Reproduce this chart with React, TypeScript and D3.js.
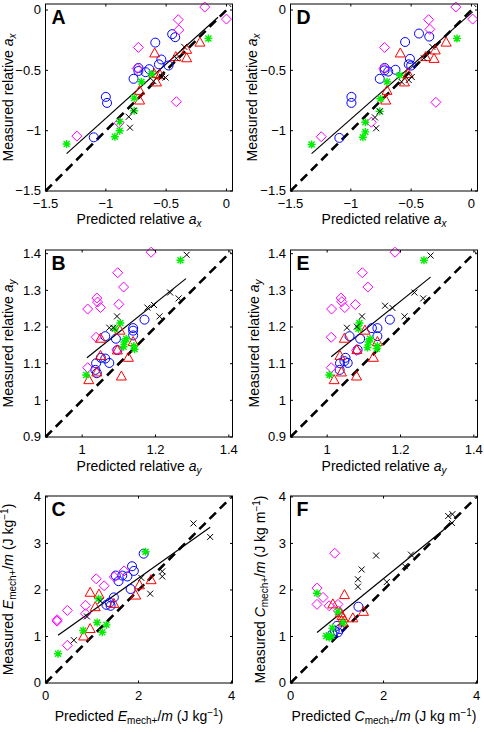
import React from 'react';
import * as d3 from 'd3';

type Pt = [number, number];

// ---- panel A : relative a_x (model 1)
const aBlue: Pt[] = [[-0.59, -0.27], [-0.45, -0.2], [-0.425, -0.225], [-0.54, -0.41], [-0.56, -0.45], [-0.48, -0.46], [-0.64, -0.49], [-0.73, -0.48], [-0.73, -0.505], [-0.67, -0.515], [-0.77, -0.57], [-1.0, -0.72], [-0.99, -0.77], [-1.1, -1.055]];
const aMagenta: Pt[] = [[-0.18, 0.025], [-0.4, -0.08], [-0.395, -0.165], [0, -0.075], [-0.73, -0.31], [-0.74, -0.485], [-0.415, -0.76], [-1.24, -1.045], [-0.89, -0.935]];
const aRed: Pt[] = [[-0.22, -0.27], [-0.33, -0.33], [-0.33, -0.4], [-0.42, -0.39], [-0.595, -0.36], [-0.6, -0.53], [-0.58, -0.6], [-0.55, -0.54], [-0.72, -0.67], [-0.72, -0.75]];
const aGreen: Pt[] = [[-0.15, -0.235], [-0.62, -0.53], [-0.705, -0.595], [-0.765, -0.73], [-0.765, -0.835], [-0.885, -0.925], [-0.885, -1.0], [-0.925, -1.05], [-1.325, -1.11]];
const aBlack: Pt[] = [[-0.35, -0.305], [-0.415, -0.4], [-0.535, -0.555], [-0.505, -0.56], [-0.605, -0.59], [-0.81, -0.885], [-0.8, -0.975], [-0.77, -0.835]];
const aFit: Pt[] = [[-1.325, -1.19], [-0.07, -0.06]];

// ---- panel D : relative a_x (model 2)
const dBlue: Pt[] = [[-0.55, -0.265], [-0.435, -0.195], [-0.35, -0.22], [-0.51, -0.405], [-0.52, -0.45], [-0.5, -0.46], [-0.63, -0.495], [-0.72, -0.48], [-0.72, -0.5], [-0.69, -0.51], [-0.76, -0.57], [-0.995, -0.72], [-0.995, -0.77], [-1.095, -1.06]];
const dMagenta: Pt[] = [[-0.13, 0.025], [-0.355, -0.08], [-0.345, -0.16], [0.01, -0.075], [-0.72, -0.31], [-0.725, -0.485], [-0.295, -0.765], [-1.245, -1.05], [-0.83, -0.93]];
const dRed: Pt[] = [[-0.21, -0.27], [-0.3, -0.335], [-0.31, -0.405], [-0.38, -0.39], [-0.59, -0.36], [-0.525, -0.53], [-0.555, -0.6], [-0.7, -0.67], [-0.71, -0.75]];
const dGreen: Pt[] = [[-0.12, -0.235], [-0.595, -0.54], [-0.7, -0.595], [-0.755, -0.735], [-0.76, -0.84], [-0.88, -0.93], [-0.88, -1.01], [-0.9, -1.055], [-1.325, -1.115]];
const dBlack: Pt[] = [[-0.325, -0.305], [-0.395, -0.4], [-0.495, -0.555], [-0.52, -0.58], [-0.58, -0.595], [-0.8, -0.89], [-0.79, -0.98], [-0.76, -0.84]];
const dFit: Pt[] = [[-1.325, -1.19], [0.01, -0.015]];

// ---- panel B : relative a_y (model 1)
const bBlue: Pt[] = [[1.17, 1.22], [1.139, 1.197], [1.139, 1.19], [1.139, 1.177], [1.063, 1.175], [1.092, 1.168], [1.051, 1.116], [1.063, 1.114], [1.074, 1.102], [1.038, 1.101], [1.036, 1.083], [1.04, 1.074], [1.096, 1.137]];
const bMagenta: Pt[] = [[1.188, 1.404], [1.097, 1.348], [1.113, 1.309], [1.04, 1.279], [1.042, 1.268], [1.015, 1.249], [1.05, 1.253], [1.1, 1.262], [1.038, 1.172], [1.015, 1.089], [1.095, 1.138]];
const bRed: Pt[] = [[1.05, 1.168], [1.103, 1.19], [1.139, 1.159], [1.05, 1.121], [1.096, 1.136], [1.126, 1.116], [1.04, 1.076], [1.107, 1.065], [1.018, 1.055]];
const bGreen: Pt[] = [[1.268, 1.382], [1.104, 1.211], [1.089, 1.195], [1.12, 1.168], [1.115, 1.159], [1.113, 1.146], [1.141, 1.148], [1.143, 1.139], [1.011, 1.069]];
const bBlack: Pt[] = [[1.285, 1.397], [1.24, 1.294], [1.263, 1.278], [1.196, 1.26], [1.178, 1.253], [1.211, 1.229], [1.095, 1.229], [1.074, 1.198], [1.085, 1.198]];
const bFit: Pt[] = [[1.013, 1.116], [1.283, 1.332]];

// ---- panel E : relative a_y (model 2)
const eBlue: Pt[] = [[1.171, 1.22], [1.122, 1.197], [1.137, 1.197], [1.137, 1.175], [1.061, 1.175], [1.09, 1.168], [1.05, 1.116], [1.047, 1.107], [1.056, 1.102], [1.035, 1.101], [1.034, 1.083], [1.083, 1.138]];
const eMagenta: Pt[] = [[1.185, 1.404], [1.096, 1.348], [1.111, 1.309], [1.038, 1.279], [1.04, 1.269], [1.012, 1.249], [1.048, 1.253], [1.077, 1.261], [1.011, 1.172], [1.011, 1.089], [1.08, 1.136]];
const eRed: Pt[] = [[1.047, 1.168], [1.103, 1.19], [1.137, 1.159], [1.035, 1.121], [1.081, 1.137], [1.126, 1.116], [1.039, 1.076], [1.08, 1.065], [1.019, 1.055]];
const eGreen: Pt[] = [[1.264, 1.382], [1.088, 1.211], [1.085, 1.195], [1.117, 1.168], [1.113, 1.159], [1.11, 1.144], [1.137, 1.148], [1.135, 1.141], [1.006, 1.069]];
const eBlack: Pt[] = [[1.282, 1.395], [1.238, 1.294], [1.262, 1.278], [1.158, 1.258], [1.178, 1.252], [1.211, 1.229], [1.095, 1.229], [1.054, 1.198], [1.081, 1.201]];
const eFit: Pt[] = [[1.011, 1.119], [1.282, 1.336]];

// ---- panel C : E_mech+/m
const cBlue: Pt[] = [[2.11, 2.78], [1.86, 2.51], [1.9, 2.41], [1.65, 2.31], [1.76, 2.29], [1.51, 2.31], [1.57, 2.19], [1.83, 2.02], [1.47, 1.84], [1.38, 1.73], [1.4, 1.66], [1.31, 1.68]];
const cMagenta: Pt[] = [[1.09, 2.24], [1.26, 2.09], [1.69, 2.41], [1.48, 2.28], [0.86, 1.67], [0.86, 1.49], [0.47, 1.56], [0.25, 1.36], [0.25, 1.33], [0.47, 0.81]];
const cRed: Pt[] = [[0.96, 1.94], [1.15, 1.9], [1.07, 1.63], [1.47, 1.7], [1.94, 1.88], [2.02, 2.1], [2.27, 2.21], [0.96, 1.16], [0.82, 1.0]];
const cGreen: Pt[] = [[2.15, 2.82], [1.14, 1.81], [1.11, 1.3], [1.31, 1.25], [1.22, 1.09], [0.81, 1.13], [0.27, 0.63]];
const cBlack: Pt[] = [[3.18, 3.43], [3.54, 3.14], [2.51, 2.4], [2.51, 2.29], [2.06, 2.26], [2.25, 1.92], [1.18, 1.76], [0.89, 1.43], [0.61, 0.92]];
const cFit: Pt[] = [[0.27, 1.025], [3.54, 3.35]];

// ---- panel F : C_mech+/m
const fBlue: Pt[] = [[1.46, 1.64], [1.0, 1.23], [1.02, 1.09], [0.95, 1.12], [1.06, 1.16], [0.9, 1.05]];
const fMagenta: Pt[] = [[0.95, 2.79], [0.57, 2.04], [0.7, 1.84], [0.57, 1.69], [0.83, 1.66], [1.02, 1.69], [1.03, 1.55]];
const fRed: Pt[] = [[0.91, 1.69], [1.16, 1.89], [1.07, 1.5], [1.11, 1.44], [1.13, 1.39], [1.34, 1.39], [1.57, 1.53], [1.13, 1.3]];
const fGreen: Pt[] = [[0.57, 1.93], [0.77, 1.01], [0.83, 0.98], [0.88, 1.01], [0.9, 1.18], [1.13, 1.3], [1.02, 1.53]];
const fBlack: Pt[] = [[3.39, 3.59], [3.48, 3.63], [3.47, 3.44], [1.84, 2.74], [1.53, 2.44], [1.45, 2.23], [1.45, 2.07], [2.07, 2.17], [2.46, 2.51], [2.59, 2.76]];
const fFit: Pt[] = [[0.57, 1.086], [3.5, 3.46]];

// tick values
const axTicks = [-1.5, -1, -0.5, 0];
const ayXTicks = [1, 1.2, 1.4];
const ayYTicks = [0.9, 1, 1.1, 1.2, 1.3, 1.4];
const energyTicksX = [0, 2, 4];
const energyTicksY = [0, 1, 2, 3, 4];

const FONT = '"Liberation Sans", Arial, Helvetica, sans-serif';
const SIZE = 187;
const COLS = [45.5, 290.5];
const ROWS = [4, 250, 496];
const TITLE = 14;
const SMALL = 10;

const fmt = (v: number) => String(v).replace('-', '\u2212');

const Marker = ({ kind, x, y }: { kind: string; x: number; y: number }) => {
  const t = `translate(${x},${y})`;
  if (kind === 'blue') return <circle cx={x} cy={y} r={4.5} fill="none" stroke="#0000ff" strokeWidth={1} />;
  if (kind === 'magenta') return <path transform={t} d="M0,-5L5,0L0,5L-5,0Z" fill="none" stroke="#ff00ff" strokeWidth={1} />;
  if (kind === 'red') return <path transform={t} d="M0,-5.5L5,3.5L-5,3.5Z" fill="none" stroke="#ff0000" strokeWidth={1} />;
  if (kind === 'green')
    return <path transform={t} d="M-4,0H4M0,-4V4M-3,-3L3,3M-3,3L3,-3" fill="none" stroke="#00ee00" strokeWidth={1.4} />;
  return <path transform={t} d="M-3,-3L3,3M-3,3L3,-3" fill="none" stroke="#000" strokeWidth={1} />;
};

const labelA = (w: string, sub: string) => (
  <>
    {w} relative <tspan fontStyle="italic">a</tspan>
    <tspan fontStyle="italic" fontSize={SMALL} dy={3}>{sub}</tspan>
  </>
);
const labelE = (w: string, sym: string, unit: string) => (
  <>
    {w} <tspan fontStyle="italic">{sym}</tspan>
    <tspan fontSize={SMALL} dy={3}>mech+</tspan>
    <tspan dy={-3}>/</tspan><tspan fontStyle="italic">m</tspan> ({unit}
    <tspan fontSize={SMALL} dy={-5}>{'\u22121'}</tspan>
    <tspan dy={5}>)</tspan>
  </>
);

type PanelDef = {
  letter: string;
  col: number;
  row: number;
  xDomain: [number, number];
  yDomain: [number, number];
  xTicks: number[];
  yTicks: number[];
  groups: Record<string, Pt[]>;
  fit: Pt[];
  xLabel: React.ReactNode;
  yLabel: React.ReactNode;
  yTitleX: number;
  xTitleDy: number;
};

const panels: PanelDef[] = [
  { letter: 'A', col: 0, row: 0, xDomain: [-1.5, 0.05], yDomain: [-1.5, 0.05], xTicks: axTicks, yTicks: axTicks,
    groups: { blue: aBlue, magenta: aMagenta, red: aRed, green: aGreen, black: aBlack }, fit: aFit,
    xLabel: labelA('Predicted', 'x'), yLabel: labelA('Measured', 'x'), yTitleX: 13, xTitleDy: 33 },
  { letter: 'D', col: 1, row: 0, xDomain: [-1.5, 0.05], yDomain: [-1.5, 0.05], xTicks: axTicks, yTicks: axTicks,
    groups: { blue: dBlue, magenta: dMagenta, red: dRed, green: dGreen, black: dBlack }, fit: dFit,
    xLabel: labelA('Predicted', 'x'), yLabel: labelA('Measured', 'x'), yTitleX: 257, xTitleDy: 33 },
  { letter: 'B', col: 0, row: 1, xDomain: [0.9, 1.41], yDomain: [0.9, 1.41], xTicks: ayXTicks, yTicks: ayYTicks,
    groups: { blue: bBlue, magenta: bMagenta, red: bRed, green: bGreen, black: bBlack }, fit: bFit,
    xLabel: labelA('Predicted', 'y'), yLabel: labelA('Measured', 'y'), yTitleX: 13, xTitleDy: 34 },
  { letter: 'E', col: 1, row: 1, xDomain: [0.9, 1.41], yDomain: [0.9, 1.41], xTicks: ayXTicks, yTicks: ayYTicks,
    groups: { blue: eBlue, magenta: eMagenta, red: eRed, green: eGreen, black: eBlack }, fit: eFit,
    xLabel: labelA('Predicted', 'y'), yLabel: labelA('Measured', 'y'), yTitleX: 259, xTitleDy: 34 },
  { letter: 'C', col: 0, row: 2, xDomain: [0, 4.02], yDomain: [0, 4.02], xTicks: energyTicksX, yTicks: energyTicksY,
    groups: { blue: cBlue, magenta: cMagenta, red: cRed, green: cGreen, black: cBlack }, fit: cFit,
    xLabel: labelE('Predicted', 'E', 'J kg'), yLabel: labelE('Measured', 'E', 'J kg'), yTitleX: 13, xTitleDy: 38 },
  { letter: 'F', col: 1, row: 2, xDomain: [0, 4.02], yDomain: [0, 4.02], xTicks: energyTicksX, yTicks: energyTicksY,
    groups: { blue: fBlue, magenta: fMagenta, red: fRed, green: fGreen, black: fBlack }, fit: fFit,
    xLabel: labelE('Predicted', 'C', 'J kg m'), yLabel: labelE('Measured', 'C', 'J kg m'), yTitleX: 265, xTitleDy: 38 },
];

const order = ['blue', 'magenta', 'red', 'green', 'black'];

const Panel = ({ p }: { p: PanelDef }) => {
  const left = COLS[p.col];
  const top = ROWS[p.row];
  const x = d3.scaleLinear().domain(p.xDomain).range([left, left + SIZE]);
  const y = d3.scaleLinear().domain(p.yDomain).range([top + SIZE, top]);
  const bottom = top + SIZE;
  const right = left + SIZE;
  const line = d3.line<Pt>().x((d) => x(d[0])).y((d) => y(d[1]));
  const lo = Math.max(p.xDomain[0], p.yDomain[0]);
  const hi = Math.min(p.xDomain[1], p.yDomain[1]) - 0.01 * (p.xDomain[1] - p.xDomain[0]);
  const tl = 2.5;
  return (
    <g fontFamily={FONT}>
      {/* identity line */}
      <path d={line([[lo, lo], [hi, hi]]) || ''} stroke="#000" strokeWidth={2.6} strokeDasharray="9,5.5" fill="none" />
      {/* fitted line */}
      <path d={line(p.fit) || ''} stroke="#000" strokeWidth={1.2} fill="none" />
      {order.map((k) =>
        p.groups[k].map((d, i) => <Marker key={k + i} kind={k} x={x(d[0])} y={y(d[1])} />)
      )}
      <rect x={left} y={top} width={SIZE} height={SIZE} fill="none" stroke="#000" strokeWidth={1} />
      {p.xTicks.map((t) => (
        <g key={'xt' + t}>
          <line x1={x(t)} x2={x(t)} y1={bottom} y2={bottom - tl} stroke="#000" />
          <line x1={x(t)} x2={x(t)} y1={top} y2={top + tl} stroke="#000" />
          <text x={x(t)} y={bottom + 16.5} fontSize={13} textAnchor="middle">{fmt(t)}</text>
        </g>
      ))}
      {p.yTicks.map((t) => (
        <g key={'yt' + t}>
          <line x1={left} x2={left + tl} y1={y(t)} y2={y(t)} stroke="#000" />
          <line x1={right} x2={right - tl} y1={y(t)} y2={y(t)} stroke="#000" />
          <text x={left - 4.5} y={y(t)} dy="0.34em" fontSize={13} textAnchor="end">{fmt(t)}</text>
        </g>
      ))}
      <text x={left + 6} y={top + 20} fontSize={19.5} fontWeight="bold">{p.letter}</text>
      <text x={(left + right) / 2} y={bottom + p.xTitleDy} fontSize={TITLE} textAnchor="middle">{p.xLabel}</text>
      <text
        transform={`translate(${p.yTitleX},${(top + bottom) / 2}) rotate(-90)`}
        fontSize={TITLE}
        textAnchor="middle"
      >
        {p.yLabel}
      </text>
    </g>
  );
};

export default function App() {
  return (
    <svg
      width={484}
      height={732}
      style={{ position: 'absolute', left: 0, top: 0, background: '#fff' }}
    >
      <rect width={484} height={732} fill="#fff" />
      {panels.map((p) => (
        <Panel key={p.letter} p={p} />
      ))}
    </svg>
  );
}
